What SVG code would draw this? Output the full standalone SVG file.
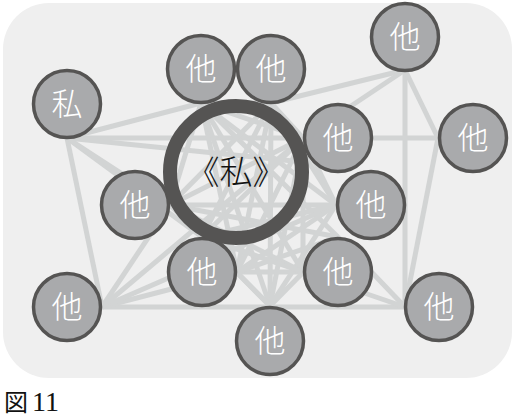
<svg xmlns="http://www.w3.org/2000/svg" width="514" height="419" viewBox="0 0 514 419">
<style>
.bg{fill:#efefef}
.ln line{stroke:#d2d4d4;stroke-width:5}
.nd circle{fill:#a9aaac;stroke:#555453;stroke-width:3.5}
.nd text{fill:#ffffff;font-family:"Noto Sans CJK JP",sans-serif;font-size:31px;font-weight:300;text-anchor:middle}
.ring{fill:none;stroke:#555453;stroke-width:14}
.center{fill:#111;font-family:"Noto Sans CJK JP",sans-serif;font-size:33px;font-weight:300;text-anchor:middle}
.cap{fill:#111;font-family:"Liberation Serif","Noto Sans CJK JP",serif}
</style>
<rect class="bg" x="3" y="3" width="509" height="375" rx="46" ry="46"/>
<g id="connectors" class="ln">
<line x1="67" y1="138" x2="201" y2="103"/>
<line x1="67" y1="138" x2="438" y2="138"/>
<line x1="67" y1="138" x2="102" y2="307"/>
<line x1="67" y1="138" x2="202" y2="237"/>
<line x1="67" y1="138" x2="303" y2="162"/>
<line x1="67" y1="138" x2="170" y2="205"/>
<line x1="102" y1="307" x2="405" y2="307"/>
<line x1="102" y1="307" x2="170" y2="205"/>
<line x1="102" y1="307" x2="237" y2="272"/>
<line x1="102" y1="307" x2="336" y2="205"/>
<line x1="102" y1="307" x2="303" y2="138"/>
<line x1="405" y1="70" x2="271" y2="103"/>
<line x1="405" y1="70" x2="303" y2="138"/>
<line x1="405" y1="70" x2="405" y2="307"/>
<line x1="405" y1="70" x2="438" y2="138"/>
<line x1="438" y1="138" x2="405" y2="307"/>
<line x1="405" y1="307" x2="338" y2="237"/>
<line x1="405" y1="307" x2="303" y2="272"/>
<line x1="201" y1="103" x2="271" y2="103"/>
<line x1="201" y1="103" x2="303" y2="138"/>
<line x1="201" y1="103" x2="336" y2="205"/>
<line x1="201" y1="103" x2="170" y2="205"/>
<line x1="201" y1="103" x2="237" y2="272"/>
<line x1="201" y1="103" x2="303" y2="272"/>
<line x1="201" y1="103" x2="270" y2="306"/>
<line x1="201" y1="103" x2="338" y2="237"/>
<line x1="271" y1="103" x2="303" y2="138"/>
<line x1="271" y1="103" x2="336" y2="205"/>
<line x1="271" y1="103" x2="170" y2="205"/>
<line x1="271" y1="103" x2="237" y2="272"/>
<line x1="271" y1="103" x2="270" y2="306"/>
<line x1="271" y1="103" x2="202" y2="237"/>
<line x1="303" y1="138" x2="336" y2="205"/>
<line x1="303" y1="138" x2="170" y2="205"/>
<line x1="303" y1="138" x2="237" y2="272"/>
<line x1="303" y1="138" x2="303" y2="272"/>
<line x1="303" y1="138" x2="270" y2="306"/>
<line x1="303" y1="138" x2="202" y2="237"/>
<line x1="336" y1="205" x2="170" y2="205"/>
<line x1="336" y1="205" x2="237" y2="272"/>
<line x1="336" y1="205" x2="270" y2="306"/>
<line x1="336" y1="205" x2="202" y2="237"/>
<line x1="170" y1="205" x2="303" y2="272"/>
<line x1="170" y1="205" x2="270" y2="306"/>
<line x1="170" y1="205" x2="338" y2="237"/>
<line x1="237" y1="272" x2="303" y2="272"/>
<line x1="237" y1="272" x2="338" y2="237"/>
<line x1="303" y1="272" x2="202" y2="237"/>
<line x1="270" y1="306" x2="202" y2="237"/>
<line x1="270" y1="306" x2="338" y2="237"/>
</g>
<g id="n-watashi" class="nd"><circle cx="67" cy="104" r="33.5"/><text x="67" y="115">私</text></g>
<g id="n-ta1" class="nd"><circle cx="201" cy="69" r="33.5"/><text x="201" y="80">他</text></g>
<g id="n-ta2" class="nd"><circle cx="271" cy="69" r="33.5"/><text x="271" y="80">他</text></g>
<g id="n-ta3" class="nd"><circle cx="405" cy="37" r="33.5"/><text x="405" y="48">他</text></g>
<g id="n-ta4" class="nd"><circle cx="473" cy="138" r="33.5"/><text x="473" y="149">他</text></g>
<g id="n-ta5" class="nd"><circle cx="338" cy="138" r="33.5"/><text x="338" y="149">他</text></g>
<g id="n-ta6" class="nd"><circle cx="135" cy="205" r="33.5"/><text x="135" y="216">他</text></g>
<g id="n-ta7" class="nd"><circle cx="371" cy="205" r="33.5"/><text x="371" y="216">他</text></g>
<g id="n-ta8" class="nd"><circle cx="202" cy="272" r="33.5"/><text x="202" y="283">他</text></g>
<g id="n-ta9" class="nd"><circle cx="338" cy="272" r="33.5"/><text x="338" y="283">他</text></g>
<g id="n-ta10" class="nd"><circle cx="67" cy="307" r="33.5"/><text x="67" y="318">他</text></g>
<g id="n-ta11" class="nd"><circle cx="439" cy="307" r="33.5"/><text x="439" y="318">他</text></g>
<g id="n-ta12" class="nd"><circle cx="270" cy="341" r="33.5"/><text x="270" y="352">他</text></g>
<g id="n-self"><circle class="ring" cx="236" cy="172" r="66"/><text class="center" x="236" y="184">《私》</text></g>
<text class="cap" x="4" y="411"><tspan font-size="24">図</tspan><tspan x="32" font-size="28">11</tspan></text>
</svg>
